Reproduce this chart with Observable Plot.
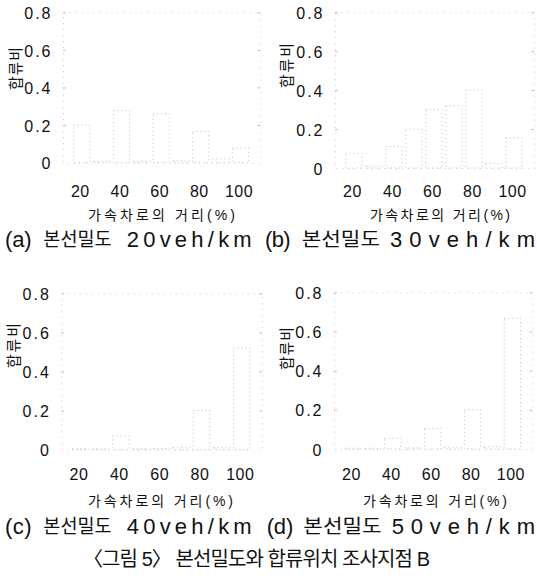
<!DOCTYPE html>
<html>
<head>
<meta charset="utf-8">
<script src="https://cdn.jsdelivr.net/npm/d3@7"></script>
<script src="https://cdn.jsdelivr.net/npm/@observablehq/plot@0.6"></script>
<style>
  html, body { margin: 0; padding: 0; background: #fff; }
  #wrap { position: relative; width: 537px; height: 582px; overflow: hidden; background: #fff; }
  #wrap > svg { position: absolute; }
  g[aria-label="y-axis tick label"] text { letter-spacing: 2px; }
  g[aria-label="x-axis tick label"] text { letter-spacing: 0.5px; }
</style>
</head>
<body>
<div id="wrap"></div>
<script>
// ---- data ----
const distance = [21, 31, 41, 51, 61, 71, 81, 91, 101];          // bar centres, 가속차로의 거리(%)
const ratio20 = [0.20, 0.008, 0.277, 0.008, 0.26, 0.01, 0.165, 0.02, 0.077];
const ratio30 = [0.076, 0.01, 0.11, 0.20, 0.30, 0.32, 0.40, 0.023, 0.155];
const ratio40 = [0.004, 0.004, 0.07, 0.004, 0.006, 0.01, 0.20, 0.01, 0.52];
const ratio50 = [0.004, 0.004, 0.055, 0.006, 0.105, 0.01, 0.20, 0.012, 0.667];
const xTicks = [20, 40, 60, 80, 100];
const yTicks = [0, 0.2, 0.4, 0.6, 0.8];
const xDomain = [11.5, 111];
const yDomain = [0, 0.8];
const barHalfWidth = 4.1;
const captions = ["(a) 본선밀도 20veh/km", "(b) 본선밀도 30veh/km", "(c) 본선밀도 40veh/km", "(d) 본선밀도 50veh/km"];
const xLabel = "가속차로의 거리(%)";
const yLabel = "합류비";
const figureTitle = "〈그림 5〉 본선밀도와 합류위치 조사지점 B";

// ---- layout (page pixel positions of each panel frame and its texts) ----
const panels = [
  {values: ratio20, left: 0,   top: 0,   w: 268, h: 205, fl: 63,   fr: 260.3, ft: 12.3,  fb: 162.6, tickTop: 185,
   xl: [161.5, 215, 147], capY: 239, capSeg: [[5, 31.7], [43.3, 111.7], [126.7, 251.7]], yl: [15, 68.5, 43]},
  {values: ratio30, left: 270, top: 0,   w: 267, h: 205, fl: 335,  fr: 534,   ft: 12.3,  fb: 168,   tickTop: 185,
   xl: [440, 215, 140],   capY: 239, capSeg: [[265, 290.5], [301.7, 380], [390, 535]], yl: [286.5, 65.5, 45]},
  {values: ratio40, left: 0,   top: 280, w: 268, h: 205, fl: 61.3, fr: 262,   ft: 293.3, fb: 449.6, tickTop: 468.3,
   xl: [160.5, 500.5, 145], capY: 526, capSeg: [[5, 31.7], [43.3, 111.7], [126.7, 251.7]], yl: [13.5, 345.5, 45]},
  {values: ratio50, left: 270, top: 280, w: 267, h: 205, fl: 334,  fr: 532.3, ft: 292.3, fb: 449,   tickTop: 468.3,
   xl: [435, 500.5, 144], capY: 526, capSeg: [[266.7, 293.3], [303.3, 381.7], [391.7, 535]], yl: [286.5, 348.5, 43]}
];

const wrap = document.getElementById("wrap");
const faint = "#cfcfcf";
const innerTicks = yTicks.filter(v => v > 0);
const yFormat = v => (v === 0 ? "0" : d3.format(".1f")(v));

panels.forEach(cfg => {
  const data = distance.map((d, i) => ({distance: d, ratio: cfg.values[i]}));
  const svg = Plot.plot({
    width: cfg.w,
    height: cfg.h,
    marginLeft: cfg.fl - cfg.left,
    marginRight: cfg.left + cfg.w - cfg.fr,
    marginTop: cfg.ft - cfg.top,
    marginBottom: cfg.top + cfg.h - cfg.fb,
    x: {domain: xDomain},
    y: {domain: yDomain},
    style: {fontFamily: "'Liberation Sans', Arial, sans-serif", fontSize: "16px", color: "#111", background: "transparent", overflow: "visible"},
    marks: [
      Plot.frame({stroke: faint, strokeDasharray: "1 5"}),
      Plot.ruleY(innerTicks, {x1: xDomain[0], x2: xDomain[0] + 1.4, stroke: "#bdbdbd"}),
      Plot.ruleY(innerTicks, {x1: xDomain[1] - 1.4, x2: xDomain[1], stroke: "#bdbdbd"}),
      Plot.rectY(data, {
        x1: d => d.distance - barHalfWidth,
        x2: d => d.distance + barHalfWidth,
        y1: 0,
        y2: "ratio",
        fill: "none",
        stroke: "#bcbcbc",
        strokeDasharray: "1 3"
      }),
      Plot.axisX(xTicks, {tickSize: 0, tickPadding: cfg.tickTop - cfg.fb, fontSize: 16, fill: "#111", label: null}),
      Plot.axisY(yTicks, {tickSize: 0, tickPadding: 11, dy: 1, fontSize: 16, fill: "#111", label: null, tickFormat: yFormat})
    ]
  });
  svg.style.left = cfg.left + "px";
  svg.style.top = cfg.top + "px";
  wrap.appendChild(svg);
});

// ---- text overlay: axis titles, panel captions, figure title ----
const overlay = d3.select(wrap).append("svg")
  .attr("width", 537).attr("height", 582)
  .style("left", "0px").style("top", "0px")
  .style("pointer-events", "none");

const sansStack = "'Liberation Sans', Arial, 'Noto Sans CJK KR', sans-serif";

function label(str, cx, cy, size, len, rotate, anchor = "middle", adjust = "spacing") {
  const t = overlay.append("text")
    .attr("x", 0).attr("y", 0)
    .attr("transform", `translate(${cx},${cy})` + (rotate ? ` rotate(${rotate})` : ""))
    .attr("text-anchor", anchor)
    .attr("dominant-baseline", "central")
    .attr("font-family", sansStack)
    .attr("font-size", size)
    .attr("fill", "#111")
    .text(str);
  if (len) t.attr("textLength", len).attr("lengthAdjust", adjust);
  return t;
}

panels.forEach((cfg, i) => {
  label(xLabel, cfg.xl[0], cfg.xl[1], 14, cfg.xl[2]);
  label(yLabel, cfg.yl[0], cfg.yl[1], 15, cfg.yl[2], -90);
  const words = captions[i].split(" ");
  words.forEach((w, k) => {
    const [x0, x1] = cfg.capSeg[k];
    if (k === 1) label(w, x0, cfg.capY, 19, x1 - x0, 0, "start", "spacingAndGlyphs");
    else label(w, x0, cfg.capY + 0.5, 22, x1 - x0, 0, "start", "spacing");
  });
});
label(figureTitle, 256.5, 558.5, 20, 347);
</script>
</body>
</html>
